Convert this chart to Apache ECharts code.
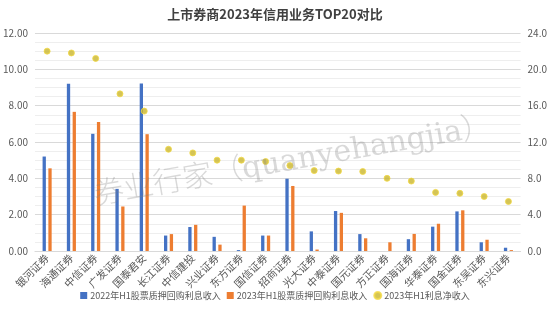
<!DOCTYPE html>
<html>
<head>
<meta charset="utf-8">
<script src="https://cdn.jsdelivr.net/npm/echarts@6/dist/echarts.min.js"></script>
<style>
  html, body { margin: 0; padding: 0; background: #fff; }
  #chart { width: 550px; height: 315px; }
</style>
</head>
<body>
<div id="chart"></div>
<script>
// Brokers ranked by H1 2023 net interest income
const brokers = ['银河证券', '海通证券', '中信证券', '广发证券', '国泰君安', '长江证券', '中信建投', '兴业证券', '东方证券', '国信证券',
                 '招商证券', '光大证券', '中泰证券', '国元证券', '方正证券', '国海证券', '华泰证券', '国金证券', '东吴证券', '东兴证券'];

// Stock-pledge repo interest income, H1 2022 (left axis)
const pledge2022 = [5.20, 9.20, 6.45, 3.42, 9.22, 0.85, 1.32, 0.78, 0.05, 0.85,
                    3.98, 1.08, 2.20, 0.93, 0.00, 0.65, 1.34, 2.18, 0.48, 0.18];

// Stock-pledge repo interest income, H1 2023 (left axis)
const pledge2023 = [4.55, 7.66, 7.10, 2.45, 6.43, 0.93, 1.44, 0.35, 2.50, 0.85,
                    3.58, 0.08, 2.10, 0.70, 0.48, 0.94, 1.50, 2.24, 0.62, 0.05];

// Net interest income, H1 2023 (right axis)
const netInterest2023 = [22.0, 21.8, 21.2, 17.3, 15.4, 11.2, 10.8, 10.0, 10.0, 9.85,
                         9.4, 8.85, 8.8, 8.75, 8.0, 7.7, 6.45, 6.35, 6.0, 5.45];

const seriesNames = ['2022年H1股票质押回购利息收入', '2023年H1股票质押回购利息收入', '2023年H1利息净收入'];

const chart = echarts.init(document.getElementById('chart'), null, { renderer: 'canvas' });
const fontCJK = '"Noto Sans CJK SC", "Noto Sans", sans-serif';
const labelColor = '#595959';

chart.setOption({
  animation: false,
  backgroundColor: '#ffffff',
  title: {
    text: '上市券商2023年信用业务TOP20对比',
    left: 'center',
    top: 3,
    textStyle: { fontFamily: fontCJK, fontSize: 13, fontWeight: 'bold', color: '#404040' }
  },
  legend: {
    bottom: 10,
    left: 'center',
    itemWidth: 7,
    itemHeight: 7,
    itemGap: 6,
    textStyle: { fontFamily: fontCJK, fontSize: 9, color: labelColor, padding: [0, 0, 0, -2] },
    data: [
      { name: seriesNames[0], icon: 'rect' },
      { name: seriesNames[1], icon: 'rect' },
      { name: seriesNames[2], icon: 'circle' }
    ]
  },
  grid: { left: 30, right: 27, top: 33, bottom: 64, containLabel: false },
  xAxis: {
    type: 'category',
    data: brokers,
    axisLine: { lineStyle: { color: '#d9d9d9' } },
    axisTick: { show: false },
    axisLabel: { rotate: 45, interval: 0, margin: 5, fontFamily: fontCJK, fontSize: 10.5, color: labelColor }
  },
  yAxis: [
    {
      type: 'value',
      min: 0, max: 12, interval: 2,
      axisLine: { show: false },
      axisTick: { show: false },
      axisLabel: { formatter: v => v.toFixed(2), fontFamily: fontCJK, fontSize: 10, color: labelColor, margin: 7 },
      splitLine: { lineStyle: { color: '#d9d9d9', width: 1 } },
      minorTick: { show: false, splitNumber: 4 },
      minorSplitLine: { show: true, lineStyle: { color: '#eeeeee', width: 1 } }
    },
    {
      type: 'value',
      min: 0, max: 24, interval: 4,
      axisLine: { show: false },
      axisTick: { show: false },
      axisLabel: { formatter: v => v.toFixed(1), fontFamily: fontCJK, fontSize: 10, color: labelColor, margin: 7 },
      splitLine: { show: false }
    }
  ],
  graphic: [
    {
      type: 'text',
      left: 92,
      top: 112,
      rotation: 10 * Math.PI / 180,
      z: 100,
      silent: true,
      style: {
        text: '券业行家（quanyehangjia）',
        font: '300 30px "DejaVu Serif", "Liberation Serif", "Noto Sans CJK SC", serif',
        fill: 'rgba(130,130,130,0.3)'
      }
    }
  ],
  series: [
    {
      name: seriesNames[0],
      type: 'bar',
      yAxisIndex: 0,
      data: pledge2022,
      barWidth: 3.3,
      barGap: '75%',
      itemStyle: { color: '#4472C4' }
    },
    {
      name: seriesNames[1],
      type: 'bar',
      yAxisIndex: 0,
      data: pledge2023,
      barWidth: 3.3,
      barGap: '75%',
      itemStyle: { color: '#ED7D31' }
    },
    {
      name: seriesNames[2],
      type: 'scatter',
      yAxisIndex: 1,
      data: netInterest2023,
      symbol: 'circle',
      symbolSize: 6,
      itemStyle: { color: '#C9B52C', borderColor: '#F2DA45', borderWidth: 1 }
    }
  ]
});
</script>
</body>
</html>
